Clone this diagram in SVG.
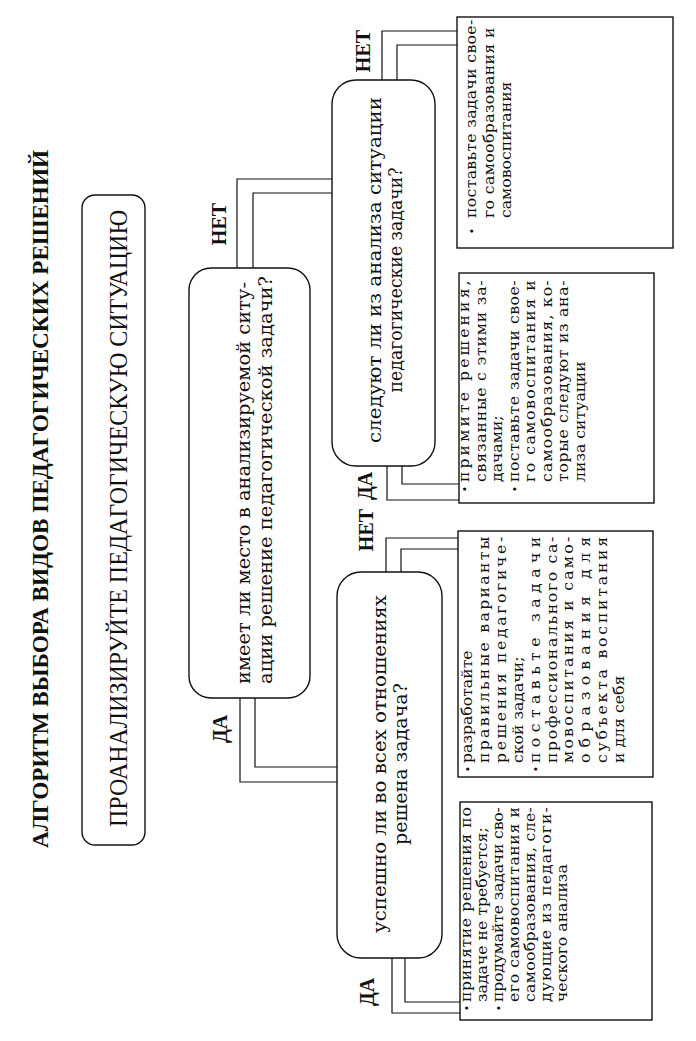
<svg xmlns="http://www.w3.org/2000/svg" width="696" height="1041" viewBox="0 0 696 1041">
<style>
.bx{fill:none;stroke:#111;stroke-width:1.4}
.c{fill:none;stroke:#111;stroke-width:1.2}
.t{font-family:"Liberation Serif",serif;font-weight:bold;font-size:23px;fill:#111}
.h{font-family:"Liberation Serif",serif;font-size:25px;fill:#111}
.q{font-family:"DejaVu Serif",serif;font-size:18px;fill:#111}
.s{font-family:"DejaVu Serif",serif;font-size:14px;fill:#111}
.b{font-family:"DejaVu Serif",serif;font-size:11px;fill:#111}
.lab{font-family:"Liberation Serif",serif;font-weight:bold;font-size:20px;fill:#111}
</style>
<rect width="696" height="1041" fill="#fff"/>

<g id="title">
<text class="t" transform="translate(48,848) rotate(-90)" textLength="698" lengthAdjust="spacingAndGlyphs">АЛГОРИТМ ВЫБОРА ВИДОВ ПЕДАГОГИЧЕСКИХ РЕШЕНИЙ</text>
</g>

<g id="connectors">
<path class="c" d="M237,268 V179 H332"/>
<path class="c" d="M253,268 V193 H332"/>
<path class="c" d="M240,698 V782 H337"/>
<path class="c" d="M255,698 V767 H337"/>
<path class="c" d="M382,80 V31 H457"/>
<path class="c" d="M397,80 V45 H457"/>
<path class="c" d="M387,466 V500 H459"/>
<path class="c" d="M402,466 V484 H459"/>
<path class="c" d="M386,572 V538 H458"/>
<path class="c" d="M401,572 V549 H458"/>
<path class="c" d="M392,958 V1013 H460"/>
<path class="c" d="M405,958 V1002 H460"/>
<text class="lab" text-anchor="middle" transform="translate(226,224) rotate(-90)">НЕТ</text>
<text class="lab" text-anchor="middle" transform="translate(227,729) rotate(-90)">ДА</text>
<text class="lab" text-anchor="middle" transform="translate(370,51) rotate(-90)">НЕТ</text>
<text class="lab" text-anchor="middle" transform="translate(372,486) rotate(-90)">ДА</text>
<text class="lab" text-anchor="middle" transform="translate(373,530) rotate(-90)">НЕТ</text>
<text class="lab" text-anchor="middle" transform="translate(374,992) rotate(-90)">ДА</text>
</g>

<g id="n1">
<rect class="bx" x="82" y="195" width="63" height="650" rx="13"/>
<text class="h" transform="translate(127,827) rotate(-90)" textLength="617" lengthAdjust="spacingAndGlyphs">ПРОАНАЛИЗИРУЙТЕ ПЕДАГОГИЧЕСКУЮ СИТУАЦИЮ</text>
</g>

<g id="n2">
<rect class="bx" x="189" y="268" width="121" height="430" rx="22"/>
<text class="q" transform="translate(250,684) rotate(-90)" textLength="402" lengthAdjust="spacingAndGlyphs">имеет ли место в анализируемой ситу-</text>
<text class="q" transform="translate(272,684) rotate(-90)" textLength="408" lengthAdjust="spacingAndGlyphs">ации решение педагогической задачи?</text>
</g>

<g id="n3">
<rect class="bx" x="332" y="80" width="103" height="386" rx="24"/>
<text class="q" transform="translate(381,443) rotate(-90)" textLength="346" lengthAdjust="spacingAndGlyphs">следуют ли из анализа ситуации</text>
<text class="q" text-anchor="middle" transform="translate(402,280) rotate(-90)" textLength="225" lengthAdjust="spacingAndGlyphs">педагогические задачи?</text>
</g>

<g id="n4">
<rect class="bx" x="337" y="572" width="105" height="386" rx="24"/>
<text class="q" transform="translate(386,933) rotate(-90)" textLength="338" lengthAdjust="spacingAndGlyphs">успешно ли во всех отношениях</text>
<text class="q" text-anchor="middle" transform="translate(407,764) rotate(-90)" textLength="162" lengthAdjust="spacingAndGlyphs">решена задача?</text>
</g>

<g id="n5">
<rect class="bx" x="459" y="273" width="195" height="230"/>
<text class="b" text-anchor="middle" transform="translate(469,489) rotate(-90)">•</text>
<text class="s" transform="translate(469,482) rotate(-90) scale(1.12,1)" textLength="180" lengthAdjust="spacing">примите решения,</text>
<text class="s" transform="translate(485.5,482) rotate(-90) scale(1.12,1)" textLength="180" lengthAdjust="spacing">связанные с этими за-</text>
<text class="s" transform="translate(502,482) rotate(-90) scale(1.12,1)">дачами;</text>
<text class="b" text-anchor="middle" transform="translate(518.5,489) rotate(-90)">•</text>
<text class="s" transform="translate(518.5,482) rotate(-90) scale(1.12,1)" textLength="180" lengthAdjust="spacing">поставьте задачи свое-</text>
<text class="s" transform="translate(535,482) rotate(-90) scale(1.12,1)" textLength="180" lengthAdjust="spacing">го самовоспитания и</text>
<text class="s" transform="translate(551.5,482) rotate(-90) scale(1.12,1)" textLength="180" lengthAdjust="spacing">самообразования, ко-</text>
<text class="s" transform="translate(568,482) rotate(-90) scale(1.12,1)" textLength="180" lengthAdjust="spacing">торые следуют из ана-</text>
<text class="s" transform="translate(584.5,482) rotate(-90) scale(1.12,1)">лиза ситуации</text>
</g>

<g id="n6">
<rect class="bx" x="457" y="17" width="216" height="231"/>
<text class="b" text-anchor="middle" transform="translate(476,231) rotate(-90)">•</text>
<text class="s" transform="translate(476,218) rotate(-90) scale(1.12,1)" textLength="177" lengthAdjust="spacing">поставьте задачи свое-</text>
<text class="s" transform="translate(493.5,218) rotate(-90) scale(1.12,1)" textLength="170" lengthAdjust="spacing">го самообразования и</text>
<text class="s" transform="translate(511,218) rotate(-90) scale(1.12,1)">самовоспитания</text>
</g>

<g id="n7">
<rect class="bx" x="458" y="531" width="195" height="246"/>
<text class="b" text-anchor="middle" transform="translate(472,769) rotate(-90)">•</text>
<text class="s" transform="translate(472,763) rotate(-90) scale(1.12,1)">разработайте</text>
<text class="s" transform="translate(488.9,763) rotate(-90) scale(1.12,1)" textLength="202" lengthAdjust="spacing">правильные варианты</text>
<text class="s" transform="translate(505.8,763) rotate(-90) scale(1.12,1)" textLength="202" lengthAdjust="spacing">решения педагогиче-</text>
<text class="s" transform="translate(522.7,763) rotate(-90) scale(1.12,1)">ской задачи;</text>
<text class="b" text-anchor="middle" transform="translate(539.6,769) rotate(-90)">•</text>
<text class="s" transform="translate(539.6,763) rotate(-90) scale(1.12,1)" textLength="202" lengthAdjust="spacing">поставьте задачи</text>
<text class="s" transform="translate(556.5,763) rotate(-90) scale(1.12,1)" textLength="202" lengthAdjust="spacing">профессионального са-</text>
<text class="s" transform="translate(573.4,763) rotate(-90) scale(1.12,1)" textLength="202" lengthAdjust="spacing">мовоспитания и само-</text>
<text class="s" transform="translate(590.3,763) rotate(-90) scale(1.12,1)" textLength="202" lengthAdjust="spacing">образования для</text>
<text class="s" transform="translate(607.2,763) rotate(-90) scale(1.12,1)" textLength="202" lengthAdjust="spacing">субъекта воспитания</text>
<text class="s" transform="translate(624.1,763) rotate(-90) scale(1.12,1)">и для себя</text>
</g>

<g id="n8">
<rect class="bx" x="460" y="802" width="192" height="218"/>
<text class="b" text-anchor="middle" transform="translate(471,1008) rotate(-90)">•</text>
<text class="s" transform="translate(471,1002) rotate(-90) scale(1.12,1)" textLength="174" lengthAdjust="spacing">принятие решения по</text>
<text class="s" transform="translate(487,1002) rotate(-90) scale(1.12,1)">задаче не требуется;</text>
<text class="b" text-anchor="middle" transform="translate(503,1008) rotate(-90)">•</text>
<text class="s" transform="translate(503,1002) rotate(-90) scale(1.12,1)" textLength="174" lengthAdjust="spacing">продумайте задачи сво-</text>
<text class="s" transform="translate(519,1002) rotate(-90) scale(1.12,1)" textLength="174" lengthAdjust="spacing">его самовоспитания и</text>
<text class="s" transform="translate(535,1002) rotate(-90) scale(1.12,1)" textLength="174" lengthAdjust="spacing">самообразования, сле-</text>
<text class="s" transform="translate(551,1002) rotate(-90) scale(1.12,1)" textLength="174" lengthAdjust="spacing">дующие из педагоги-</text>
<text class="s" transform="translate(567,1002) rotate(-90) scale(1.12,1)">ческого анализа</text>
</g>
</svg>
